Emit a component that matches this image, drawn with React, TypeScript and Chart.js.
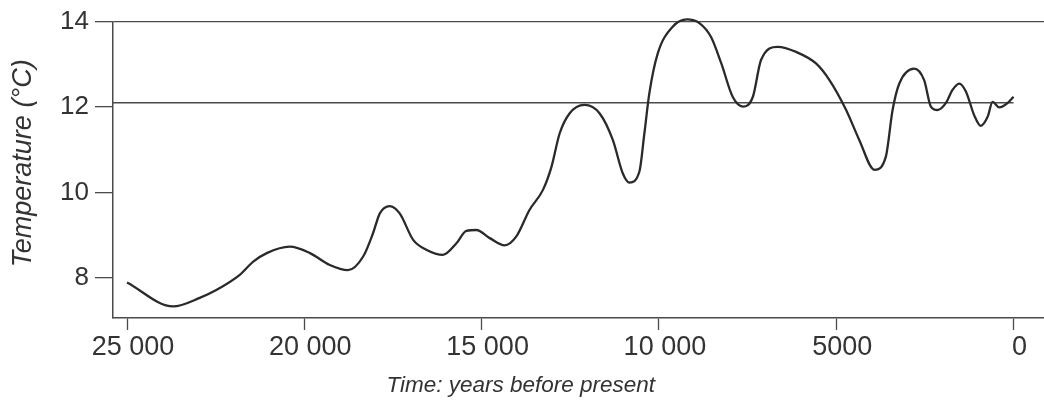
import { useEffect, useRef } from 'react';
import { Chart, registerables } from 'chart.js';

Chart.register(...registerables);

// Years before present (x) and temperature in °C (y)
const years = [
  25000, 23700, 22950, 22470, 21820, 21440, 21060, 20410, 19840, 19280,
  18770, 18340, 18060, 17870, 17590, 17310, 16930, 16560, 16090, 15710,
  15430, 15150, 14770, 14350, 14020, 13650, 13270, 13030, 12800, 12520,
  12100, 11670, 11300, 11020, 10830, 10550, 10410, 10270, 10030, 9610,
  9210, 8850, 8530, 8240, 7920, 7630, 7350, 7120, 6650, 6130,
  5570, 5190, 4720, 4350, 3920, 3600, 3410, 3220, 2800, 2520,
  2330, 2140, 1910, 1720, 1530, 1340, 1110, 920, 730, 590,
  400, 170, 0,
];
const temperatures = [
  7.89, 7.33, 7.53, 7.72, 8.07, 8.38, 8.58, 8.73, 8.58, 8.3,
  8.18, 8.5, 9.05, 9.51, 9.68, 9.51, 8.89, 8.66, 8.54, 8.81,
  9.1, 9.12, 8.93, 8.76, 8.97, 9.59, 10.06, 10.6, 11.38, 11.85,
  12.05, 11.85, 11.23, 10.45, 10.23, 10.49, 11.38, 12.32, 13.26, 13.88,
  14.05, 13.96, 13.64, 13.02, 12.24, 12.01, 12.24, 13.1, 13.41, 13.29,
  13.02, 12.63, 11.93, 11.23, 10.53, 10.84, 11.93, 12.55, 12.9, 12.63,
  12.01, 11.93, 12.09, 12.4, 12.55, 12.36, 11.81, 11.56, 11.77, 12.12,
  11.99, 12.09, 12.24,
];

const referenceTemp = 12.1;
const yearTicks = [25000, 20000, 15000, 10000, 5000, 0];
const yearTickLabels = ['25 000', '20 000', '15 000', '10 000', '5000', '0'];
const tempTicks = [8, 10, 12, 14];
const tempTickLabels = ['8', '10', '12', '14'];

const xAxisMax = 25395;
const xAxisMin = -860;
const yAxisMin = 7.06;
const yAxisMax = 14;

const xTitle = 'Time: years before present';
const yTitle = 'Temperature (°C)';

const FONT = '"Liberation Sans", Arial, Helvetica, sans-serif';
const TEXT = '#333333';
const INK = '#2a2a2a';
const RULE = '#4a4a4a';

export default function App() {
  const ref = useRef<HTMLCanvasElement>(null);

  useEffect(() => {
    const canvas = ref.current;
    if (!canvas) return;

    const axisTitlesPlugin = {
      id: 'axisTitlesText',
      afterDraw(chart: any) {
        const { ctx, chartArea } = chart;
        ctx.save();
        ctx.fillStyle = TEXT;
        ctx.textAlign = 'center';
        ctx.textBaseline = 'middle';
        ctx.font = `italic 22.5px ${FONT}`;
        ctx.fillText(xTitle, chartArea.left + (chartArea.right - chartArea.left) * 0.438, 386);
        ctx.translate(23, chartArea.top + (chartArea.bottom - chartArea.top) * 0.478);
        ctx.rotate(-Math.PI / 2);
        ctx.font = `italic 27px ${FONT}`;
        ctx.fillText(yTitle, 0, 0);
        ctx.restore();
      },
    };

    const chart = new Chart(canvas, {
      type: 'line',
      data: {
        datasets: [
          {
            data: years.map((x, i) => ({ x, y: temperatures[i] })),
            borderColor: INK,
            borderWidth: 2.3,
            pointRadius: 0,
            cubicInterpolationMode: 'monotone',
            clip: false,
          } as any,
          {
            data: [
              { x: xAxisMax, y: referenceTemp },
              { x: 0, y: referenceTemp },
            ],
            borderColor: RULE,
            borderWidth: 1.3,
            pointRadius: 0,
          },
        ],
      },
      options: {
        responsive: false,
        animation: false,
        events: [],
        layout: { padding: { top: 21, right: 0, left: 0, bottom: 0 } },
        plugins: { legend: { display: false }, tooltip: { enabled: false } },
        scales: {
          x: {
            type: 'linear',
            reverse: true,
            min: xAxisMin,
            max: xAxisMax,
            afterBuildTicks: (s: any) => {
              s.ticks = yearTicks.map((v) => ({ value: v }));
            },
            afterFit: (s: any) => {
              s.height = 83;
            },
            ticks: {
              autoSkip: false,
              maxRotation: 0,
              padding: 1,
              labelOffset: 6,
              color: TEXT,
              font: { family: FONT, size: 27 },
              callback: (v: any) => {
                const i = yearTicks.indexOf(Number(v));
                return i >= 0 ? yearTickLabels[i] : '';
              },
            },
            grid: { drawOnChartArea: false, tickLength: 12, tickColor: RULE, tickWidth: 1.3 },
            border: { display: true, color: RULE, width: 1.5 },
          },
          y: {
            type: 'linear',
            min: yAxisMin,
            max: yAxisMax,
            afterBuildTicks: (s: any) => {
              s.ticks = tempTicks.map((v) => ({ value: v }));
            },
            afterFit: (s: any) => {
              s.width = 113;
            },
            ticks: {
              padding: 6,
              color: TEXT,
              font: { family: FONT, size: 26 },
              callback: (v: any) => {
                const i = tempTicks.indexOf(Number(v));
                return i >= 0 ? tempTickLabels[i] : '';
              },
            },
            grid: {
              color: (c: any) => (c.tick && c.tick.value === yAxisMax ? RULE : 'transparent'),
              lineWidth: 1.3,
              tickLength: 18,
              tickColor: RULE,
              tickWidth: 1.3,
            },
            border: { display: true, color: RULE, width: 1.5 },
          },
        },
      },
      plugins: [axisTitlesPlugin],
    } as any);

    return () => chart.destroy();
  }, []);

  return (
    <div style={{ position: 'fixed', left: 0, top: 0, width: 1044, height: 401, background: '#ffffff' }}>
      <canvas ref={ref} width={1044} height={401} style={{ width: 1044, height: 401, display: 'block' }} />
    </div>
  );
}
